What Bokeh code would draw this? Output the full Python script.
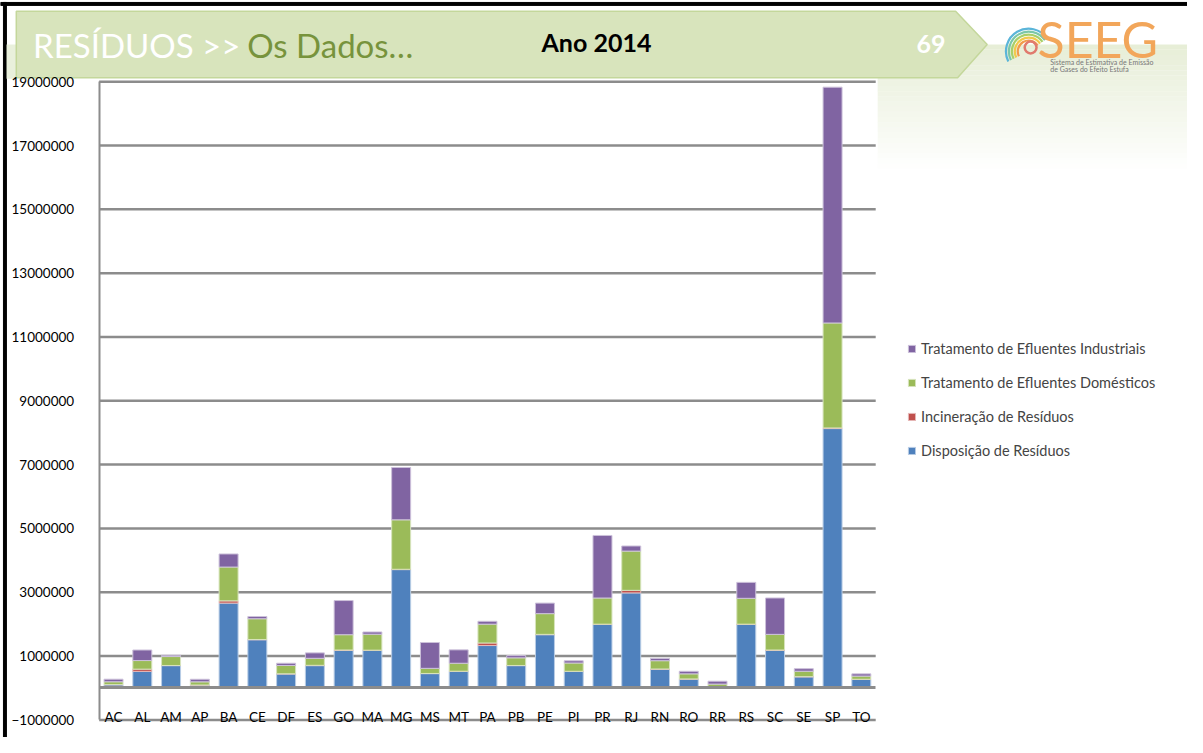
from bokeh.plotting import figure
from bokeh.models import (Range1d, LinearAxis, FixedTicker, BasicTickFormatter,
                          Legend, LegendItem, ColumnDataSource)
from bokeh.core.properties import value
from bokeh.embed import file_html
from bokeh.resources import INLINE

# ---------------- data ----------------
states = ["AC", "AL", "AM", "AP", "BA", "CE", "DF", "ES", "GO", "MA", "MG", "MS", "MT", "PA",
          "PB", "PE", "PI", "PR", "RJ", "RN", "RO", "RR", "RS", "SC", "SE", "SP", "TO"]
disposicao = [100000, 520000, 700000, 90000, 2660000, 1510000, 440000, 700000, 1180000, 1180000,
              3710000, 450000, 520000, 1330000, 700000, 1670000, 520000, 1990000, 2980000, 590000,
              280000, 40000, 1990000, 1180000, 350000, 8130000, 270000]
incineracao = [5000, 70000, 5000, 3000, 70000, 10000, 5000, 10000, 10000, 5000,
               10000, 5000, 5000, 80000, 5000, 10000, 3000, 10000, 80000, 5000,
               3000, 2000, 10000, 10000, 5000, 20000, 3000]
domesticos = [90000, 270000, 280000, 100000, 1060000, 650000, 260000, 220000, 480000, 500000,
              1550000, 160000, 250000, 590000, 240000, 650000, 260000, 820000, 1230000, 260000,
              160000, 80000, 810000, 490000, 170000, 3290000, 100000]
industriais = [80000, 330000, 40000, 80000, 410000, 70000, 70000, 170000, 1070000, 70000,
               1640000, 810000, 420000, 90000, 70000, 330000, 70000, 1960000, 160000, 70000,
               80000, 90000, 500000, 1140000, 80000, 7390000, 70000]
series_names = ["Disposição de Resíduos", "Incineração de Resíduos",
                "Tratamento de Efluentes Domésticos", "Tratamento de Efluentes Industriais"]
series_colors = ["#4F81BD", "#C0504D", "#9BBB59", "#8064A2"]
series_edges = ["#B9CDE5", "#E6B9B8", "#D7E4BD", "#CCC1DA"]
y_ticks = [-1000000, 1000000, 3000000, 5000000, 7000000, 9000000, 11000000,
           13000000, 15000000, 17000000, 19000000]
title_white = "RESÍDUOS >>"
title_green = "Os Dados…"
year_label = "Ano 2014"
page_number = "69"

# ---------------- geometry ----------------
W, H = 1187, 737              # canvas
RW, RH = 1203, 753            # layout units (slide pixels)
FL, FR, FT, FB = 100, 887, 83, 735   # plot box in slide pixels
n = len(states)
cw = (FR - FL) / n
x_start = -0.5 - FL / cw
x_end = x_start + RW / cw
y_min, y_max = y_ticks[0], y_ticks[-1]
vpp = (y_max - y_min) / (FB - FT)
v_start = y_min - (RH - FB) * vpp
v_end = y_max + FT * vpp

FONT = "Lato"
GRID = "#8C8C8C"

p = figure(width=W, height=H, x_range=Range1d(0, RW), y_range=Range1d(RH, 0),
           x_axis_type=None, y_axis_type=None, toolbar_location=None,
           output_backend="svg", min_border=0, outline_line_color=None)
p.extra_x_ranges = {"cx": Range1d(x_start, x_end)}
p.extra_y_ranges = {"val": Range1d(v_start, v_end)}

# ---------------- decorations (slide pixels) ----------------
# slide frame
p.quad(left=[0, 3], right=[RW, 6], top=[2, 2], bottom=[5, RH], color="black")

# light green fade at the top right and left
bands = 24
fade_top, fade_bot = 45, 172
step = (fade_bot - fade_top) / bands
p.quad(left=[889] * bands, right=[RW] * bands,
       top=[fade_top + i * step for i in range(bands)],
       bottom=[fade_top + (i + 1) * step for i in range(bands)],
       fill_color="#E4ECD3", line_color=None,
       fill_alpha=[0.9 * (1 - i / bands) for i in range(bands)])
p.quad(left=[6], right=[16], top=[45], bottom=[80],
       fill_color="#E4ECD3", line_color=None, fill_alpha=0.8)

# banner
p.patch(x=[16, 968, 1000, 970, 16], y=[11, 11, 45, 79, 79],
        fill_color="#D8E4BC", line_color="#C4D79B", line_width=1.5)
p.text(x=[33], y=[45], text=[title_white], text_font=value(FONT),
       text_font_size="33px", text_color="white", text_baseline="middle", text_align="left")
p.text(x=[250], y=[45], text=[title_green], text_font=value(FONT),
       text_font_size="33px", text_color="#77933C", text_baseline="middle", text_align="left")
p.text(x=[604], y=[42], text=[year_label], text_font=value(FONT), text_font_style="bold",
       text_font_size="25px", text_color="black", text_baseline="middle", text_align="center")
p.text(x=[943], y=[44], text=[page_number], text_font=value(FONT), text_font_style="bold",
       text_font_size="25px", text_color="white", text_baseline="middle", text_align="center")

# logo
arc_cols = ["#5BB5D9", "#7CC7A8", "#A8CF6A", "#F2C94C", "#F29B4B"]
for k, c in enumerate(arc_cols):
    r = 23 - k * 3
    p.arc(x=[1042], y=[52], radius=r, start_angle=0.6, end_angle=3.6,
          line_color=c, line_width=2.2)
p.circle(x=[1044], y=[48], radius=6, fill_color=None, line_color="#E07A6E", line_width=2.5)
p.text(x=[1051], y=[39], text=["SEEG"], text_font=value(FONT), text_font_size="50px",
       text_color="#F2A65A", text_baseline="middle", text_align="left")
p.text(x=[1064], y=[63], text=["Sistema de Estimativa de Emissão"], text_font=value(FONT),
       text_font_size="7px", text_color="#777777", text_baseline="middle")
p.text(x=[1064], y=[70], text=["de Gases do Efeito Estufa"], text_font=value(FONT),
       text_font_size="7px", text_color="#777777", text_baseline="middle")

# ---------------- chart ----------------
p.segment(x0=[-0.5] * len(y_ticks), x1=[n - 0.5] * len(y_ticks), y0=y_ticks, y1=y_ticks,
          line_color=GRID, line_width=2.5, x_range_name="cx", y_range_name="val")

src = ColumnDataSource(dict(x=list(range(n)), dis=disposicao, inc=incineracao,
                            dom=domesticos, ind=industriais))
renderers = p.vbar_stack(["dis", "inc", "dom", "ind"], x="x", width=0.66, source=src,
                         fill_color=series_colors, line_color=series_edges, line_width=1,
                         x_range_name="cx", y_range_name="val")

yaxis = LinearAxis(y_range_name="val", fixed_location=FL,
                   ticker=FixedTicker(ticks=y_ticks),
                   formatter=BasicTickFormatter(use_scientific=False),
                   bounds=(y_min, y_max))
yaxis.axis_line_color = GRID
yaxis.axis_line_width = 2
yaxis.major_tick_line_color = None
yaxis.minor_tick_line_color = None
yaxis.major_label_standoff = 19
yaxis.major_label_text_font = FONT
yaxis.major_label_text_font_size = "13.5px"
yaxis.major_label_text_color = "black"
p.add_layout(yaxis, "left")

xaxis = LinearAxis(x_range_name="cx", y_range_name="val", fixed_location=0,
                   ticker=FixedTicker(ticks=list(range(n))),
                   major_label_overrides={i: s for i, s in enumerate(states)},
                   bounds=(-0.5, n - 0.5))
xaxis.axis_line_color = GRID
xaxis.axis_line_width = 3
xaxis.major_tick_line_color = None
xaxis.minor_tick_line_color = None
xaxis.major_label_standoff = 15
xaxis.major_label_text_font = FONT
xaxis.major_label_text_font_size = "13.5px"
xaxis.major_label_text_color = "black"
p.add_layout(xaxis, "below")

items = [LegendItem(label=nm, renderers=[r])
         for nm, r in reversed(list(zip(series_names, renderers)))]
legend = Legend(items=items, location=(907, 277), glyph_width=9, glyph_height=9,
                label_height=20, spacing=14, label_standoff=5, padding=10, margin=0,
                label_text_font=FONT, label_text_font_size="14.5px",
                border_line_color=None, background_fill_alpha=0)
p.add_layout(legend)

open("out.html", "w").write(file_html(p, INLINE))
